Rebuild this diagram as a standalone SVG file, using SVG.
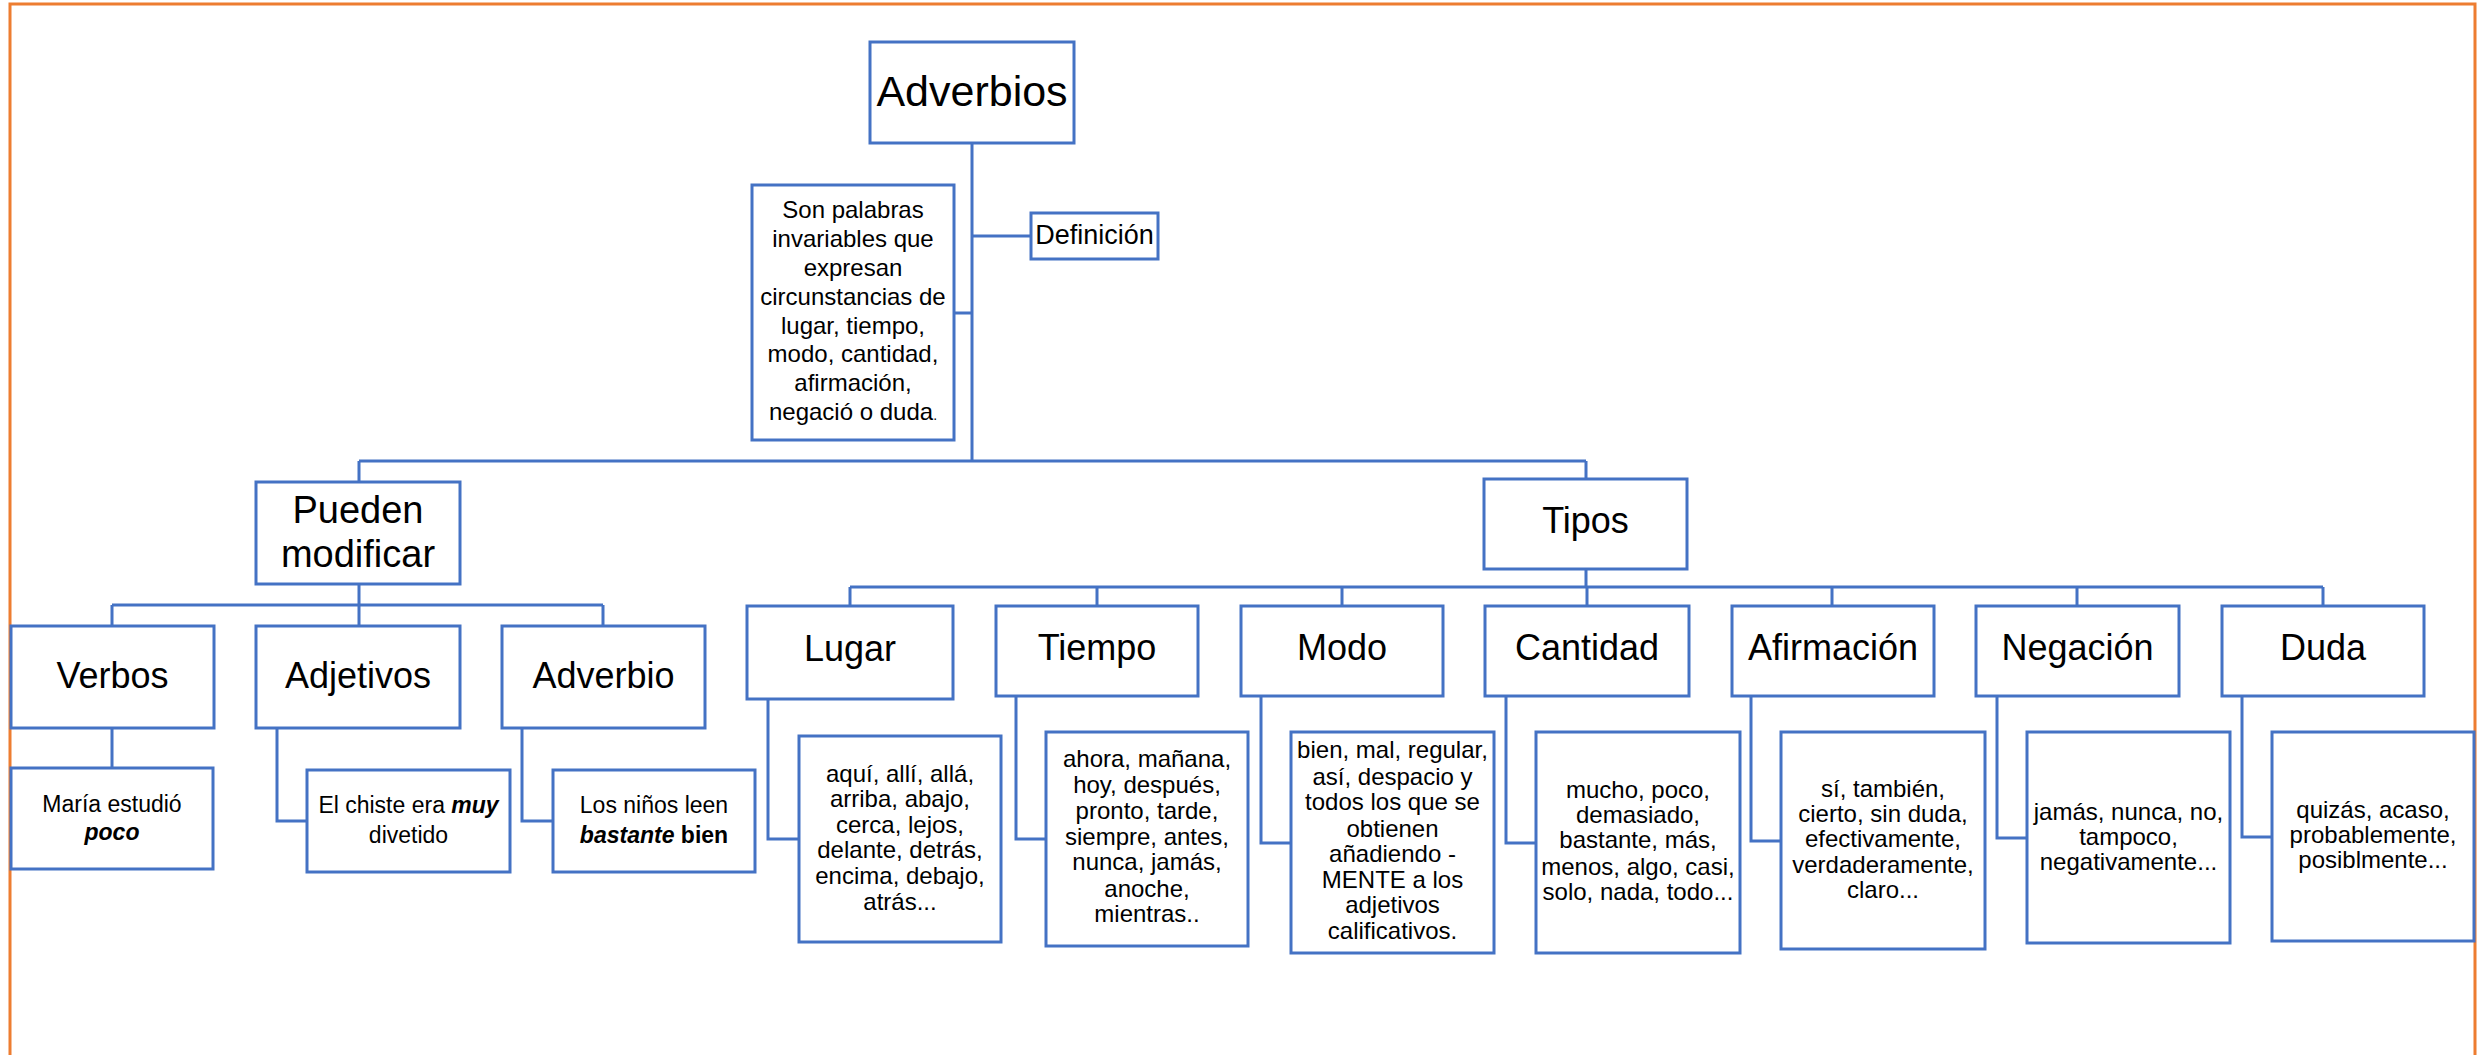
<svg xmlns="http://www.w3.org/2000/svg" width="2489" height="1055" viewBox="0 0 2489 1055">
<style>
.box{fill:#fff;stroke:#4472C4;stroke-width:3}
.con{fill:none;stroke:#4472C4;stroke-width:3}
text{font-family:"Liberation Sans",Arial,sans-serif;fill:#000;text-anchor:middle}
.big{font-size:43px}
.lbl{font-size:36px}
.mid{font-size:38px}
.def{font-size:27px}
.txt{font-size:24px}
.sm{font-size:23px}
.bi{font-weight:bold;font-style:italic}
.b{font-weight:bold}
</style>
<rect width="2489" height="1055" fill="#fff"/>
<path d="M10 1060 V4 H2475 V1060" fill="none" stroke="#ED7D31" stroke-width="3"/>
<g id="connectors">
<path class="con" d="M972 143 V461 M972 236 H1031 M954 313 H972 M359 461 H1586 M359 461 V482 M1586 461 V479"/>
<path class="con" d="M359 584 V605 M112 605 H603 M112 605 V626 M359 605 V626 M603 605 V626"/>
<path class="con" d="M112 728 V768 M277 728 V821 H307 M522 728 V821 H553"/>
<path class="con" d="M1586 569 V587 M850 587 H2323 M850 587 V606 M1097 587 V606 M1342 587 V606 M1587 587 V606 M1832 587 V606 M2077 587 V606 M2323 587 V606"/>
<path class="con" d="M768 699 V839 H799 M1016 696 V839 H1046 M1261 696 V843 H1291 M1506 696 V843 H1536 M1751 696 V841 H1781 M1997 696 V838 H2027 M2242 696 V837 H2272"/>
</g>
<g id="adverbios"><rect class="box" x="870" y="42" width="204" height="101"/><text class="big" x="972" y="106">Adverbios</text></g>
<g id="definicion"><rect class="box" x="1031" y="213" width="127" height="46"/><text class="def" x="1094.5" y="244">Definición</text></g>
<g id="definicion-texto"><rect class="box" x="752" y="185" width="202" height="255"/>
<text class="txt" x="853"><tspan x="853" y="218">Son palabras</tspan><tspan x="853" y="247">invariables que</tspan><tspan x="853" y="276">expresan</tspan><tspan x="853" y="305">circunstancias de</tspan><tspan x="853" y="334">lugar, tiempo,</tspan><tspan x="853" y="362">modo, cantidad,</tspan><tspan x="853" y="391">afirmación,</tspan><tspan x="853" y="420">negació o duda<tspan font-size="14">.</tspan></tspan></text></g>
<g id="pueden"><rect class="box" x="256" y="482" width="204" height="102"/><text class="mid" x="358"><tspan x="358" y="523">Pueden</tspan><tspan x="358" y="567">modificar</tspan></text></g>
<g id="verbos"><rect class="box" x="11" y="626" width="203" height="102"/><text class="lbl" x="112.5" y="688">Verbos</text></g>
<g id="adjetivos"><rect class="box" x="256" y="626" width="204" height="102"/><text class="lbl" x="358" y="688">Adjetivos</text></g>
<g id="adverbio"><rect class="box" x="502" y="626" width="203" height="102"/><text class="lbl" x="603.5" y="688">Adverbio</text></g>
<g id="ej-verbos"><rect class="box" x="11" y="768" width="202" height="101"/><text class="sm" x="112"><tspan x="112" y="812">María estudió</tspan><tspan x="112" y="840" class="bi">poco</tspan></text></g>
<g id="ej-adjetivos"><rect class="box" x="307" y="770" width="203" height="102"/><text class="sm" x="408.5"><tspan x="408.5" y="813">El chiste era <tspan class="bi">muy</tspan></tspan><tspan x="408.5" y="843">divetido</tspan></text></g>
<g id="ej-adverbio"><rect class="box" x="553" y="770" width="202" height="102"/><text class="sm" x="654"><tspan x="654" y="813">Los niños leen</tspan><tspan x="654" y="843"><tspan class="bi">bastante</tspan><tspan class="b"> bien</tspan></tspan></text></g>
<g id="tipos"><rect class="box" x="1484" y="479" width="203" height="90"/><text class="lbl" x="1585.5" y="533">Tipos</text></g>
<g id="lugar"><rect class="box" x="747" y="606" width="206" height="93"/><text class="lbl" x="850" y="661">Lugar</text></g>
<g id="tiempo"><rect class="box" x="996" y="606" width="202" height="90"/><text class="lbl" x="1097" y="660">Tiempo</text></g>
<g id="modo"><rect class="box" x="1241" y="606" width="202" height="90"/><text class="lbl" x="1342" y="660">Modo</text></g>
<g id="cantidad"><rect class="box" x="1485" y="606" width="204" height="90"/><text class="lbl" x="1587" y="660">Cantidad</text></g>
<g id="afirmacion"><rect class="box" x="1732" y="606" width="202" height="90"/><text class="lbl" x="1833" y="660">Afirmación</text></g>
<g id="negacion"><rect class="box" x="1976" y="606" width="203" height="90"/><text class="lbl" x="2077.5" y="660">Negación</text></g>
<g id="duda"><rect class="box" x="2222" y="606" width="202" height="90"/><text class="lbl" x="2323" y="660">Duda</text></g>
<g id="ej-lugar"><rect class="box" x="799" y="736" width="202" height="206"/><text class="txt" x="900"><tspan x="900" y="782">aquí, allí, allá,</tspan><tspan x="900" y="807">arriba, abajo,</tspan><tspan x="900" y="833">cerca, lejos,</tspan><tspan x="900" y="858">delante, detrás,</tspan><tspan x="900" y="884">encima, debajo,</tspan><tspan x="900" y="910">atrás...</tspan></text></g>
<g id="ej-tiempo"><rect class="box" x="1046" y="732" width="202" height="214"/><text class="txt" x="1147"><tspan x="1147" y="767">ahora, mañana,</tspan><tspan x="1147" y="793">hoy, después,</tspan><tspan x="1147" y="819">pronto, tarde,</tspan><tspan x="1147" y="845">siempre, antes,</tspan><tspan x="1147" y="870">nunca, jamás,</tspan><tspan x="1147" y="897">anoche,</tspan><tspan x="1147" y="922">mientras..</tspan></text></g>
<g id="ej-modo"><rect class="box" x="1291" y="732" width="203" height="221"/><text class="txt" x="1392.5"><tspan x="1392.5" y="758">bien, mal, regular,</tspan><tspan x="1392.5" y="785">así, despacio y</tspan><tspan x="1392.5" y="810">todos los que se</tspan><tspan x="1392.5" y="837">obtienen</tspan><tspan x="1392.5" y="862">añadiendo -</tspan><tspan x="1392.5" y="888">MENTE a los</tspan><tspan x="1392.5" y="913">adjetivos</tspan><tspan x="1392.5" y="939">calificativos.</tspan></text></g>
<g id="ej-cantidad"><rect class="box" x="1536" y="732" width="204" height="221"/><text class="txt" x="1638"><tspan x="1638" y="798">mucho, poco,</tspan><tspan x="1638" y="823">demasiado,</tspan><tspan x="1638" y="848">bastante, más,</tspan><tspan x="1638" y="875">menos, algo, casi,</tspan><tspan x="1638" y="900">solo, nada, todo...</tspan></text></g>
<g id="ej-afirmacion"><rect class="box" x="1781" y="732" width="204" height="217"/><text class="txt" x="1883"><tspan x="1883" y="797">sí, también,</tspan><tspan x="1883" y="822">cierto, sin duda,</tspan><tspan x="1883" y="847">efectivamente,</tspan><tspan x="1883" y="873">verdaderamente,</tspan><tspan x="1883" y="898">claro...</tspan></text></g>
<g id="ej-negacion"><rect class="box" x="2027" y="732" width="203" height="211"/><text class="txt" x="2128.5"><tspan x="2128.5" y="820">jamás, nunca, no,</tspan><tspan x="2128.5" y="845">tampoco,</tspan><tspan x="2128.5" y="870">negativamente...</tspan></text></g>
<g id="ej-duda"><rect class="box" x="2272" y="732" width="202" height="209"/><text class="txt" x="2373"><tspan x="2373" y="818">quizás, acaso,</tspan><tspan x="2373" y="843">probablemente,</tspan><tspan x="2373" y="868">posiblmente...</tspan></text></g>
</svg>
